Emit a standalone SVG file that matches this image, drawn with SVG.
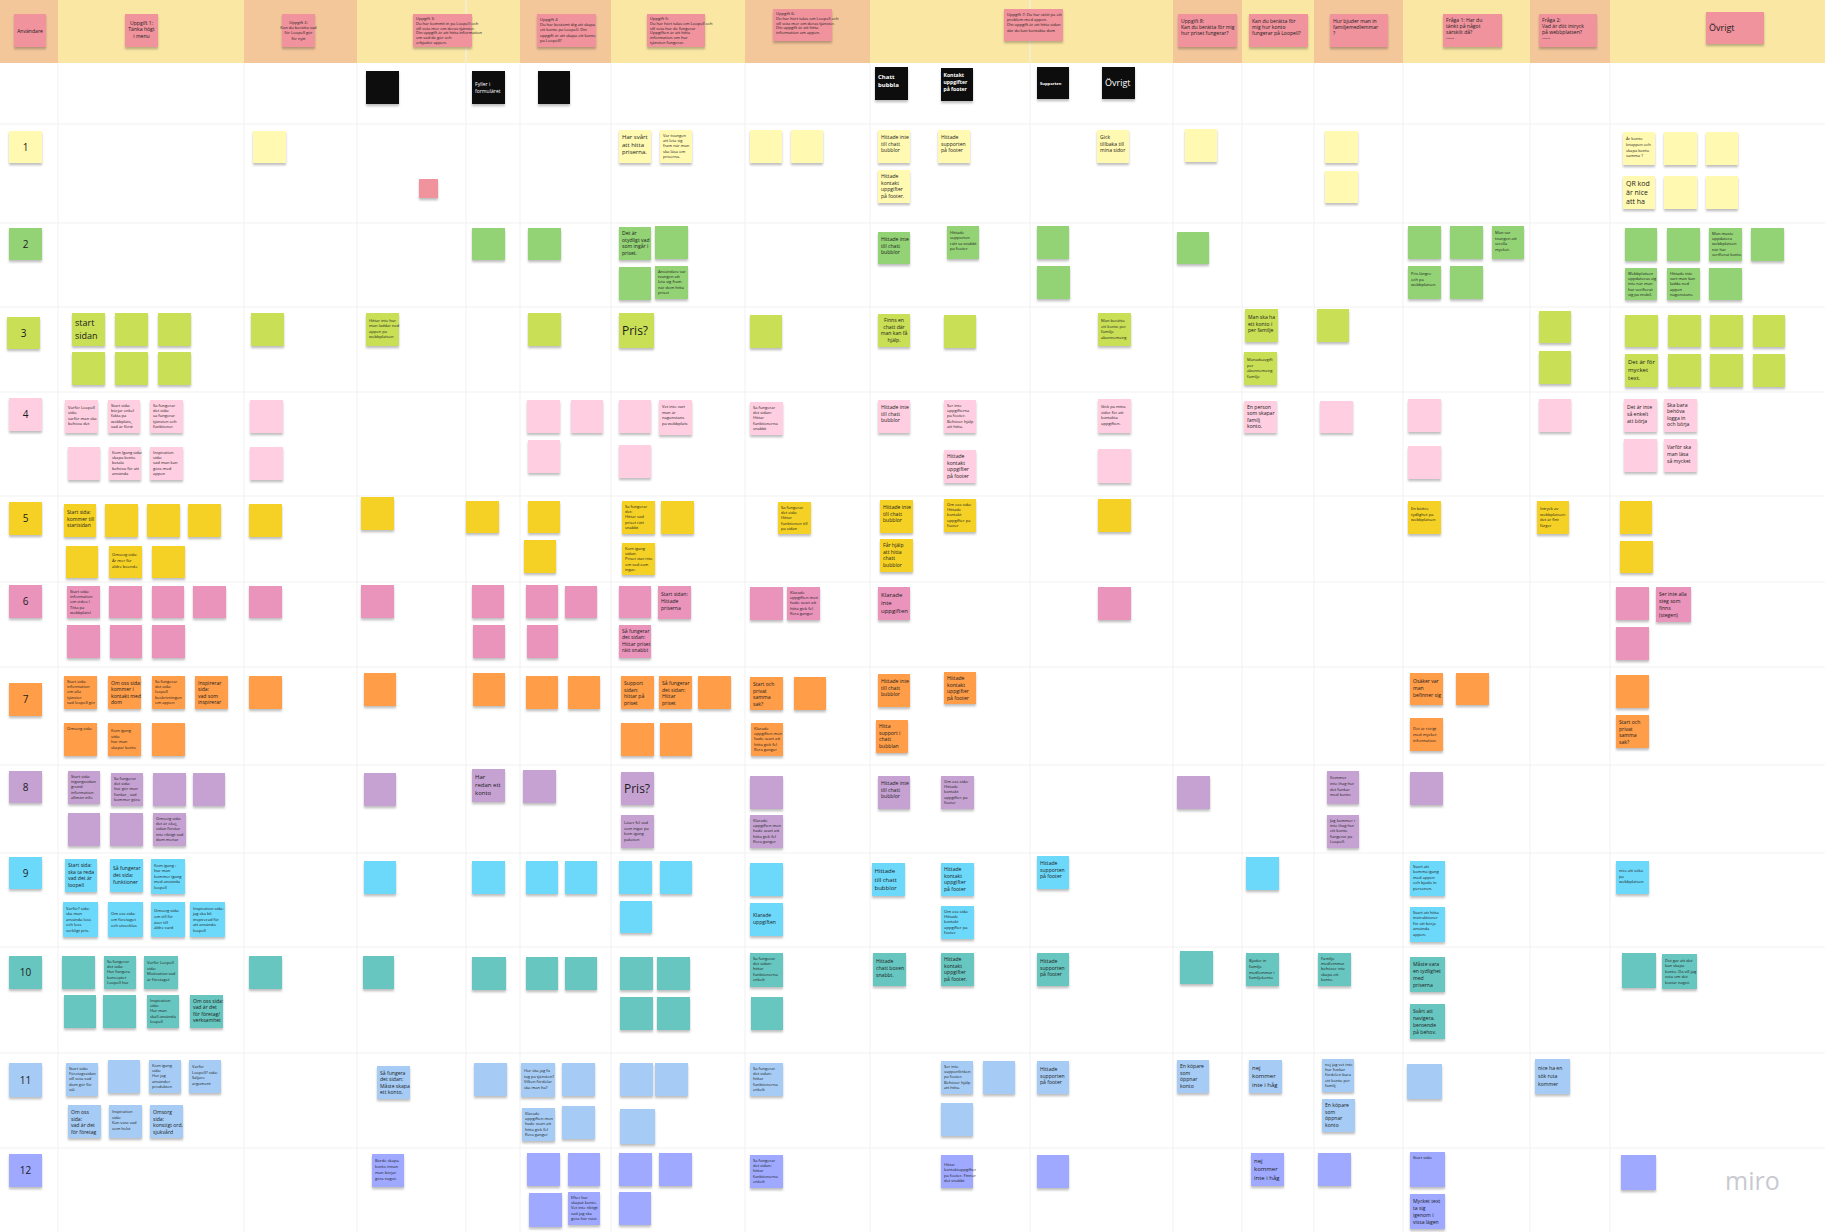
<svg xmlns="http://www.w3.org/2000/svg" width="1825" height="1232" viewBox="0 0 1825 1232">
<defs>
<filter id="sh" x="-20%" y="-20%" width="140%" height="160%"><feDropShadow dx="0" dy="2.2" stdDeviation="1.3" flood-color="#000" flood-opacity="0.25"/></filter>
<style>
.s{filter:url(#sh)}
.c1{fill:#fff9b1}.c2{fill:#93d275}.c3{fill:#c9df56}.c4{fill:#ffcee0}.c5{fill:#f5d128}.c6{fill:#ea94bb}
.c7{fill:#ff9d48}.c8{fill:#c6a2d2}.c9{fill:#6cd8fa}.c10{fill:#67c6c0}.c11{fill:#a6ccf5}.c12{fill:#9ea9ff}
.red{fill:#f0939d}.blk{fill:#0a0a0a}
text{font-family:"Open Sans","Noto Sans","Liberation Sans",sans-serif;fill:#1c1c1c}
.a{font-size:4.1px}.b{font-size:5.1px}.c{font-size:6px}.d{font-size:7px}.e{font-size:9px}.f{font-size:12px}
.w{fill:#fff}.mid{text-anchor:middle}
.lbl{font-size:10px;text-anchor:middle}
.gl{stroke:#f1f1f1;stroke-width:1}
</style>
</defs>
<rect width="1825" height="1232" fill="#ffffff"/>
<g id="frames">
<rect x="0" y="0" width="58" height="63" fill="#f4c79b"/>
<rect x="58" y="0" width="186" height="63" fill="#fae7a4"/>
<rect x="244" y="0" width="113" height="63" fill="#f4c79b"/>
<rect x="357" y="0" width="163" height="63" fill="#fae7a4"/>
<rect x="520" y="0" width="91" height="63" fill="#f4c79b"/>
<rect x="611" y="0" width="134" height="63" fill="#fae7a4"/>
<rect x="745" y="0" width="125" height="63" fill="#f4c79b"/>
<rect x="870" y="0" width="303" height="63" fill="#fae7a4"/>
<rect x="1173" y="0" width="69" height="63" fill="#f4c79b"/>
<rect x="1242" y="0" width="72" height="63" fill="#fae7a4"/>
<rect x="1314" y="0" width="89" height="63" fill="#f4c79b"/>
<rect x="1403" y="0" width="127" height="63" fill="#fae7a4"/>
<rect x="1530" y="0" width="80" height="63" fill="#f4c79b"/>
<rect x="1610" y="0" width="215" height="63" fill="#fae7a4"/>
<g class="gl">
<line x1="466" y1="0" x2="466" y2="1232"/><line x1="1030" y1="0" x2="1030" y2="1232"/>
<line x1="58" y1="63" x2="58" y2="1232"/><line x1="244" y1="63" x2="244" y2="1232"/><line x1="357" y1="63" x2="357" y2="1232"/>
<line x1="520" y1="63" x2="520" y2="1232"/><line x1="611" y1="63" x2="611" y2="1232"/><line x1="745" y1="63" x2="745" y2="1232"/>
<line x1="870" y1="63" x2="870" y2="1232"/><line x1="1173" y1="63" x2="1173" y2="1232"/><line x1="1242" y1="63" x2="1242" y2="1232"/>
<line x1="1314" y1="63" x2="1314" y2="1232"/><line x1="1403" y1="63" x2="1403" y2="1232"/><line x1="1530" y1="63" x2="1530" y2="1232"/>
<line x1="1610" y1="63" x2="1610" y2="1232"/>
<line x1="0" y1="124" x2="1825" y2="124"/><line x1="0" y1="223" x2="1825" y2="223"/><line x1="0" y1="307" x2="1825" y2="307"/>
<line x1="0" y1="392" x2="1825" y2="392"/><line x1="0" y1="496" x2="1825" y2="496"/><line x1="0" y1="582" x2="1825" y2="582"/>
<line x1="0" y1="667" x2="1825" y2="667"/><line x1="0" y1="765" x2="1825" y2="765"/><line x1="0" y1="853" x2="1825" y2="853"/>
<line x1="0" y1="947" x2="1825" y2="947"/><line x1="0" y1="1053" x2="1825" y2="1053"/><line x1="0" y1="1148" x2="1825" y2="1148"/>
</g>
</g>
<g id="connectors"/>
<!-- header stickies -->
<g id="h1" transform="translate(14,14)"><rect class="s red" width="32" height="33"/><text class="b mid" x="16" y="19">Användare</text></g>
<g id="h2" transform="translate(125,14)"><rect class="s red" width="33" height="33"/><text class="b mid" x="16.5" y="11"><tspan x="16.5">Uppgift 1:</tspan><tspan x="16.5" dy="6.4">Tänka högt</tspan><tspan x="16.5" dy="6.4">i menu</tspan></text></g>
<g id="h3" transform="translate(282,14)"><rect class="s red" width="33" height="33"/><text class="a mid" x="16.5" y="10"><tspan x="16.5">Uppgift 2:</tspan><tspan x="16.5" dy="5.2">Kan du berätta vad</tspan><tspan x="16.5" dy="5.2">för Loopell gör</tspan><tspan x="16.5" dy="5.2">för nytt</tspan></text></g>
<g id="h4" transform="translate(413,14)"><rect class="s red" width="59" height="33"/><text class="a" x="3" y="6"><tspan x="3">Uppgift 3:</tspan><tspan x="3" dy="4.8">Du har kommit in på Loopell och</tspan><tspan x="3" dy="4.8">vill veta mer om deras tjänster.</tspan><tspan x="3" dy="4.8">Din uppgift är att hitta information</tspan><tspan x="3" dy="4.8">om vad de gör och</tspan><tspan x="3" dy="4.8">erbjuder appen.</tspan></text></g>
<g id="h5" transform="translate(537,14)"><rect class="s red" width="59" height="33"/><text class="a" x="3" y="7"><tspan x="3">Uppgift 4</tspan><tspan x="3" dy="5.2">Du har bestämt dig att skapa</tspan><tspan x="3" dy="5.2">ett konto på Loopell. Din</tspan><tspan x="3" dy="5.2">uppgift är att skapa ett konto</tspan><tspan x="3" dy="5.2">på Loopell?</tspan></text></g>
<g id="h6" transform="translate(647,14)"><rect class="s red" width="58" height="33"/><text class="a" x="3" y="6"><tspan x="3">Uppgift 5:</tspan><tspan x="3" dy="4.8">Du har hört talas om Loopell och</tspan><tspan x="3" dy="4.8">vill veta hur de fungerar</tspan><tspan x="3" dy="4.8">Uppgiften är att hitta</tspan><tspan x="3" dy="4.8">information om hur</tspan><tspan x="3" dy="4.8">tjänsten fungerar.</tspan></text></g>
<g id="h7" transform="translate(773,9)"><rect class="s red" width="59" height="32"/><text class="a" x="3" y="6"><tspan x="3">Uppgift 6:</tspan><tspan x="3" dy="4.8">Du har hört talas om Loopell och</tspan><tspan x="3" dy="4.8">vill veta mer om deras tjänster.</tspan><tspan x="3" dy="4.8">Din uppgift är att hitta</tspan><tspan x="3" dy="4.8">information om appen.</tspan></text></g>
<g id="h8" transform="translate(1004,9)"><rect class="s red" width="59" height="32"/><text class="a" x="3" y="7"><tspan x="3">Uppgift 7: Du har stött på ett</tspan><tspan x="3" dy="5.2">problem med appen.</tspan><tspan x="3" dy="5.2">Din uppgift är att hitta sidan</tspan><tspan x="3" dy="5.2">där du kan kontakta dom</tspan></text></g>
<g id="h9" transform="translate(1178,14)"><rect class="s red" width="59" height="33"/><text class="b" x="3" y="9"><tspan x="3">Uppgift 8:</tspan><tspan x="3" dy="6.2">Kan du berätta för mig</tspan><tspan x="3" dy="6.2">hur priset fungerar?</tspan></text></g>
<g id="h10" transform="translate(1249,14)"><rect class="s red" width="59" height="33"/><text class="b" x="3" y="9"><tspan x="3">Kan du berätta för</tspan><tspan x="3" dy="6.2">mig hur konto</tspan><tspan x="3" dy="6.2">fungerar på Loopell?</tspan></text></g>
<g id="h11" transform="translate(1330,14)"><rect class="s red" width="58" height="33"/><text class="b" x="3" y="9"><tspan x="3">Hur bjuder man in</tspan><tspan x="3" dy="6.2">familjemedlemmar</tspan><tspan x="3" dy="6.2">?</tspan></text></g>
<g id="h12" transform="translate(1443,14)"><rect class="s red" width="59" height="33"/><text class="b" x="3" y="8"><tspan x="3">Fråga 1: Har du</tspan><tspan x="3" dy="6">tänkt på något</tspan><tspan x="3" dy="6">särskilt då?</tspan><tspan x="3" dy="6">-----</tspan></text></g>
<g id="h13" transform="translate(1539,14)"><rect class="s red" width="58" height="33"/><text class="b" x="3" y="8"><tspan x="3">Fråga 2:</tspan><tspan x="3" dy="6">Vad är ditt intryck</tspan><tspan x="3" dy="6">på webbplatsen?</tspan><tspan x="3" dy="6">-----</tspan></text></g>
<g id="h14" transform="translate(1706,12)"><rect class="s red" width="58" height="32"/><text class="e" x="3" y="19">Övrigt</text></g>
<!-- black category stickies -->
<g id="k1" transform="translate(366,71)"><rect class="s blk" width="33" height="33"/></g>
<g id="k2" transform="translate(472,71)"><rect class="s blk" width="33" height="33"/><text class="b w" x="3" y="15"><tspan x="3">Fyller i</tspan><tspan x="3" dy="7">formuläret</tspan></text></g>
<g id="k3" transform="translate(538,71)"><rect class="s blk" width="32" height="33"/></g>
<g id="k4" transform="translate(875,67)"><rect class="s blk" width="33" height="33"/><text class="c w" x="3" y="12" font-weight="bold"><tspan x="3">Chatt</tspan><tspan x="3" dy="8">bubbla</tspan></text></g>
<g id="k5" transform="translate(941,68)"><rect class="s blk" width="32" height="33"/><text class="b w" x="2.5" y="9" font-weight="bold"><tspan x="2.5">Kontakt</tspan><tspan x="2.5" dy="6.8">uppgifter</tspan><tspan x="2.5" dy="6.8">på footer</tspan></text></g>
<g id="k6" transform="translate(1037,67)"><rect class="s blk" width="32" height="32"/><text class="a w" x="3" y="18" font-weight="bold">Supporten</text></g>
<g id="k7" transform="translate(1102,67)"><rect class="s blk" width="33" height="32"/><text class="e w" x="3" y="19">Övrigt</text></g>
<!-- row labels -->
<g id="l1" transform="translate(9,131)"><rect class="s c1" width="33" height="32"/><text class="lbl" x="16.5" y="20">1</text></g>
<g id="l2" transform="translate(9,228)"><rect class="s c2" width="33" height="32"/><text class="lbl" x="16.5" y="20">2</text></g>
<g id="l3" transform="translate(7,317)"><rect class="s c3" width="33" height="32"/><text class="lbl" x="16.5" y="20">3</text></g>
<g id="l4" transform="translate(9,398)"><rect class="s c4" width="33" height="33"/><text class="lbl" x="16.5" y="20">4</text></g>
<g id="l5" transform="translate(9,502)"><rect class="s c5" width="33" height="33"/><text class="lbl" x="16.5" y="20">5</text></g>
<g id="l6" transform="translate(9,585)"><rect class="s c6" width="33" height="33"/><text class="lbl" x="16.5" y="20">6</text></g>
<g id="l7" transform="translate(9,683)"><rect class="s c7" width="33" height="33"/><text class="lbl" x="16.5" y="20">7</text></g>
<g id="l8" transform="translate(9,771)"><rect class="s c8" width="33" height="32"/><text class="lbl" x="16.5" y="20">8</text></g>
<g id="l9" transform="translate(9,857)"><rect class="s c9" width="33" height="32"/><text class="lbl" x="16.5" y="20">9</text></g>
<g id="l10" transform="translate(9,956)"><rect class="s c10" width="33" height="33"/><text class="lbl" x="16.5" y="20">10</text></g>
<g id="l11" transform="translate(9,1063)"><rect class="s c11" width="33" height="34"/><text class="lbl" x="16.5" y="21">11</text></g>
<g id="l12" transform="translate(9,1154)"><rect class="s c12" width="33" height="33"/><text class="lbl" x="16.5" y="20">12</text></g>
<!-- row 1 -->
<g id="r1a" transform="translate(253,131)"><rect class="s c1" width="33" height="32"/></g>
<g id="r1b" transform="translate(419,179)"><rect class="s red" width="19" height="19"/></g>
<g id="r1c" transform="translate(619,130)"><rect class="s c1" width="32" height="33"/><text class="c" x="3" y="9"><tspan x="3">Har svårt</tspan><tspan x="3" dy="7.6">att hitta</tspan><tspan x="3" dy="7.6">priserna.</tspan></text></g>
<g id="r1d" transform="translate(660,130)"><rect class="s c1" width="32" height="33"/><text class="a" x="3" y="7"><tspan x="3">Var tvungen</tspan><tspan x="3" dy="5.2">att leta sig</tspan><tspan x="3" dy="5.2">fram när man</tspan><tspan x="3" dy="5.2">ska läsa om</tspan><tspan x="3" dy="5.2">priserna.</tspan></text></g>
<g id="r1e" transform="translate(750,130)"><rect class="s c1" width="32" height="33"/></g>
<g id="r1f" transform="translate(791,130)"><rect class="s c1" width="32" height="33"/></g>
<g id="r1g" transform="translate(878,130)"><rect class="s c1" width="32" height="33"/><text class="b" x="3" y="9"><tspan x="3">Hittade inte</tspan><tspan x="3" dy="6.6">till chatt</tspan><tspan x="3" dy="6.6">bubblor</tspan></text></g>
<g id="r1h" transform="translate(878,170)"><rect class="s c1" width="32" height="33"/><text class="b" x="3" y="8"><tspan x="3">Hittade</tspan><tspan x="3" dy="6.6">kontakt</tspan><tspan x="3" dy="6.6">uppgifter</tspan><tspan x="3" dy="6.6">på footer.</tspan></text></g>
<g id="r1i" transform="translate(938,130)"><rect class="s c1" width="32" height="33"/><text class="b" x="3" y="9"><tspan x="3">Hittade</tspan><tspan x="3" dy="6.6">supporten</tspan><tspan x="3" dy="6.6">på footer</tspan></text></g>
<g id="r1j" transform="translate(1097,130)"><rect class="s c1" width="32" height="33"/><text class="b" x="3" y="9"><tspan x="3">Gick</tspan><tspan x="3" dy="6.6">tillbaka till</tspan><tspan x="3" dy="6.6">mina sidor</tspan></text></g>
<g id="r1k" transform="translate(1185,129)"><rect class="s c1" width="32" height="33"/></g>
<g id="r1l" transform="translate(1325,131)"><rect class="s c1" width="33" height="32"/></g>
<g id="r1m" transform="translate(1325,171)"><rect class="s c1" width="33" height="32"/></g>
<g id="r1n" transform="translate(1623,132)"><rect class="s c1" width="32" height="33"/><text class="a" x="3" y="8"><tspan x="3">Är konto</tspan><tspan x="3" dy="5.8">knappen och</tspan><tspan x="3" dy="5.8">skapa konto</tspan><tspan x="3" dy="5.8">samma ?</tspan></text></g>
<g id="r1o" transform="translate(1664,132)"><rect class="s c1" width="33" height="33"/></g>
<g id="r1p" transform="translate(1706,132)"><rect class="s c1" width="32" height="33"/></g>
<g id="r1q" transform="translate(1623,176)"><rect class="s c1" width="32" height="33"/><text class="d" x="3" y="10"><tspan x="3">QR kod</tspan><tspan x="3" dy="9">är nice</tspan><tspan x="3" dy="9">att ha</tspan></text></g>
<g id="r1r" transform="translate(1664,176)"><rect class="s c1" width="33" height="33"/></g>
<g id="r1s" transform="translate(1706,176)"><rect class="s c1" width="32" height="33"/></g>
<!-- row 2 -->
<g id="r2a" transform="translate(472,228)"><rect class="s c2" width="33" height="32"/></g>
<g id="r2b" transform="translate(528,228)"><rect class="s c2" width="33" height="32"/></g>
<g id="r2c" transform="translate(619,227)"><rect class="s c2" width="32" height="33"/><text class="b" x="3" y="8"><tspan x="3">Det är</tspan><tspan x="3" dy="6.6">otydligt vad</tspan><tspan x="3" dy="6.6">som ingår i</tspan><tspan x="3" dy="6.6">priset.</tspan></text></g>
<g id="r2d" transform="translate(655,226)"><rect class="s c2" width="33" height="33"/></g>
<g id="r2e" transform="translate(619,267)"><rect class="s c2" width="32" height="33"/></g>
<g id="r2f" transform="translate(655,266)"><rect class="s c2" width="33" height="33"/><text class="a" x="3" y="7"><tspan x="3">Användare var</tspan><tspan x="3" dy="5.2">tvungen att</tspan><tspan x="3" dy="5.2">leta sig fram</tspan><tspan x="3" dy="5.2">när dom hitta</tspan><tspan x="3" dy="5.2">priset</tspan></text></g>
<g id="r2g" transform="translate(878,232)"><rect class="s c2" width="32" height="32"/><text class="b" x="3" y="9"><tspan x="3">Hittade inte</tspan><tspan x="3" dy="6.6">till chatt</tspan><tspan x="3" dy="6.6">bubblor</tspan></text></g>
<g id="r2h" transform="translate(947,226)"><rect class="s c2" width="32" height="33"/><text class="a" x="3" y="8"><tspan x="3">Hittade</tspan><tspan x="3" dy="5.4">supporten</tspan><tspan x="3" dy="5.4">rätt så snabbt</tspan><tspan x="3" dy="5.4">på footer</tspan></text></g>
<g id="r2i" transform="translate(1037,226)"><rect class="s c2" width="32" height="33"/></g>
<g id="r2j" transform="translate(1037,266)"><rect class="s c2" width="33" height="33"/></g>
<g id="r2k" transform="translate(1177,232)"><rect class="s c2" width="32" height="32"/></g>
<g id="r2l" transform="translate(1408,226)"><rect class="s c2" width="33" height="33"/></g>
<g id="r2m" transform="translate(1450,226)"><rect class="s c2" width="33" height="33"/></g>
<g id="r2n" transform="translate(1492,226)"><rect class="s c2" width="32" height="33"/><text class="a" x="3" y="8"><tspan x="3">Man var</tspan><tspan x="3" dy="5.6">tvungen att</tspan><tspan x="3" dy="5.6">scrolla</tspan><tspan x="3" dy="5.6">mycket.</tspan></text></g>
<g id="r2o" transform="translate(1408,266)"><rect class="s c2" width="33" height="33"/><text class="a" x="3" y="9"><tspan x="3">Pris längre</tspan><tspan x="3" dy="5.6">och på</tspan><tspan x="3" dy="5.6">webbplatsen</tspan></text></g>
<g id="r2p" transform="translate(1450,266)"><rect class="s c2" width="33" height="33"/></g>
<g id="r2q" transform="translate(1625,228)"><rect class="s c2" width="32" height="33"/></g>
<g id="r2r" transform="translate(1667,228)"><rect class="s c2" width="33" height="33"/></g>
<g id="r2s" transform="translate(1709,228)"><rect class="s c2" width="33" height="33"/><text class="a" x="3" y="7"><tspan x="3">Man måste</tspan><tspan x="3" dy="5.2">uppdatera</tspan><tspan x="3" dy="5.2">webbplatsen</tspan><tspan x="3" dy="5.2">när har</tspan><tspan x="3" dy="5.2">verifierat konto</tspan></text></g>
<g id="r2t" transform="translate(1751,228)"><rect class="s c2" width="33" height="33"/></g>
<g id="r2u" transform="translate(1625,268)"><rect class="s c2" width="32" height="32"/><text class="a" x="3" y="7"><tspan x="3">Webbplatsen</tspan><tspan x="3" dy="5.2">uppdateras sig</tspan><tspan x="3" dy="5.2">inte när man</tspan><tspan x="3" dy="5.2">har verifierat</tspan><tspan x="3" dy="5.2">sig på mobil.</tspan></text></g>
<g id="r2v" transform="translate(1667,268)"><rect class="s c2" width="33" height="32"/><text class="a" x="3" y="7"><tspan x="3">Hittade inte</tspan><tspan x="3" dy="5.2">vart man kan</tspan><tspan x="3" dy="5.2">ladda ned</tspan><tspan x="3" dy="5.2">appen</tspan><tspan x="3" dy="5.2">någonstans.</tspan></text></g>
<g id="r2w" transform="translate(1709,268)"><rect class="s c2" width="33" height="32"/></g>
<!-- row 3 -->
<g id="r3a" transform="translate(72,313)"><rect class="s c3" width="33" height="33"/><text class="e" x="3" y="13"><tspan x="3">start</tspan><tspan x="3" dy="13">sidan</tspan></text></g>
<g id="r3b" transform="translate(115,313)"><rect class="s c3" width="33" height="33"/></g>
<g id="r3c" transform="translate(158,313)"><rect class="s c3" width="33" height="33"/></g>
<g id="r3d" transform="translate(72,352)"><rect class="s c3" width="33" height="33"/></g>
<g id="r3e" transform="translate(115,352)"><rect class="s c3" width="33" height="33"/></g>
<g id="r3f" transform="translate(158,352)"><rect class="s c3" width="33" height="33"/></g>
<g id="r3g" transform="translate(251,313)"><rect class="s c3" width="33" height="33"/></g>
<g id="r3h" transform="translate(366,313)"><rect class="s c3" width="33" height="33"/><text class="a" x="3" y="9"><tspan x="3">Hittar inte hur</tspan><tspan x="3" dy="5.4">man laddar ned</tspan><tspan x="3" dy="5.4">appen på</tspan><tspan x="3" dy="5.4">webbplatsen</tspan></text></g>
<g id="r3i" transform="translate(528,313)"><rect class="s c3" width="33" height="33"/></g>
<g id="r3j" transform="translate(619,313)"><rect class="s c3" width="35" height="35"/><text class="f" x="3" y="22">Pris?</text></g>
<g id="r3k" transform="translate(750,315)"><rect class="s c3" width="32" height="33"/></g>
<g id="r3l" transform="translate(878,314)"><rect class="s c3" width="32" height="33"/><text class="b mid" x="16" y="8"><tspan x="16">Finns en</tspan><tspan x="16" dy="6.6">chatt där</tspan><tspan x="16" dy="6.6">man kan få</tspan><tspan x="16" dy="6.6">hjälp.</tspan></text></g>
<g id="r3m" transform="translate(944,315)"><rect class="s c3" width="32" height="33"/></g>
<g id="r3n" transform="translate(1098,313)"><rect class="s c3" width="33" height="33"/><text class="a" x="3" y="9"><tspan x="3">Man berätta</tspan><tspan x="3" dy="5.6">ett konto per</tspan><tspan x="3" dy="5.6">familje</tspan><tspan x="3" dy="5.6">abonnemang</tspan></text></g>
<g id="r3o" transform="translate(1245,309)"><rect class="s c3" width="33" height="33"/><text class="b" x="3" y="10"><tspan x="3">Man ska ha</tspan><tspan x="3" dy="6.6">ett konto i</tspan><tspan x="3" dy="6.6">per familje</tspan></text></g>
<g id="r3p" transform="translate(1244,352)"><rect class="s c3" width="33" height="33"/><text class="a" x="3" y="9"><tspan x="3">Månadsavgift</tspan><tspan x="3" dy="5.6">per</tspan><tspan x="3" dy="5.6">abonnemang</tspan><tspan x="3" dy="5.6">familje</tspan></text></g>
<g id="r3q" transform="translate(1317,309)"><rect class="s c3" width="32" height="33"/></g>
<g id="r3r" transform="translate(1539,311)"><rect class="s c3" width="32" height="32"/></g>
<g id="r3s" transform="translate(1539,351)"><rect class="s c3" width="32" height="33"/></g>
<g id="r3t" transform="translate(1625,315)"><rect class="s c3" width="33" height="32"/></g>
<g id="r3u" transform="translate(1668,315)"><rect class="s c3" width="33" height="32"/></g>
<g id="r3v" transform="translate(1710,315)"><rect class="s c3" width="33" height="32"/></g>
<g id="r3w" transform="translate(1753,315)"><rect class="s c3" width="32" height="32"/></g>
<g id="r3x" transform="translate(1625,354)"><rect class="s c3" width="33" height="33"/><text class="c" x="3" y="10"><tspan x="3">Det är för</tspan><tspan x="3" dy="8">mycket</tspan><tspan x="3" dy="8">text.</tspan></text></g>
<g id="r3y" transform="translate(1668,354)"><rect class="s c3" width="33" height="33"/></g>
<g id="r3z" transform="translate(1710,354)"><rect class="s c3" width="33" height="33"/></g>
<g id="r3z2" transform="translate(1753,354)"><rect class="s c3" width="32" height="33"/></g>
<!-- row 4 -->
<g id="r4a" transform="translate(65,400)"><rect class="s c4" width="33" height="33"/><text class="a" x="3" y="9"><tspan x="3">Varför Loopell</tspan><tspan x="3" dy="5.4">sida:</tspan><tspan x="3" dy="5.4">varför man ska</tspan><tspan x="3" dy="5.4">behöva det</tspan></text></g>
<g id="r4b" transform="translate(108,400)"><rect class="s c4" width="32" height="33"/><text class="a" x="3" y="7"><tspan x="3">Start sida:</tspan><tspan x="3" dy="5.2">börjar enkel</tspan><tspan x="3" dy="5.2">fakta på</tspan><tspan x="3" dy="5.2">webbplats,</tspan><tspan x="3" dy="5.2">vad är först</tspan></text></g>
<g id="r4c" transform="translate(150,400)"><rect class="s c4" width="33" height="33"/><text class="a" x="3" y="7"><tspan x="3">Så fungerar</tspan><tspan x="3" dy="5.2">det sida:</tspan><tspan x="3" dy="5.2">så fungerar</tspan><tspan x="3" dy="5.2">tjänsten och</tspan><tspan x="3" dy="5.2">funktioner</tspan></text></g>
<g id="r4d" transform="translate(68,447)"><rect class="s c4" width="32" height="33"/></g>
<g id="r4e" transform="translate(109,447)"><rect class="s c4" width="32" height="33"/><text class="a" x="3" y="7"><tspan x="3">Kom Igång sida:</tspan><tspan x="3" dy="5.2">skapa konto</tspan><tspan x="3" dy="5.2">betala</tspan><tspan x="3" dy="5.2">behöva för att</tspan><tspan x="3" dy="5.2">använda</tspan></text></g>
<g id="r4f" transform="translate(150,447)"><rect class="s c4" width="33" height="33"/><text class="a" x="3" y="7"><tspan x="3">Inspiration</tspan><tspan x="3" dy="5.2">sida:</tspan><tspan x="3" dy="5.2">vad man kan</tspan><tspan x="3" dy="5.2">göra med</tspan><tspan x="3" dy="5.2">appen</tspan></text></g>
<g id="r4g" transform="translate(250,400)"><rect class="s c4" width="33" height="33"/></g>
<g id="r4h" transform="translate(250,447)"><rect class="s c4" width="33" height="33"/></g>
<g id="r4i" transform="translate(527,400)"><rect class="s c4" width="33" height="33"/></g>
<g id="r4j" transform="translate(571,400)"><rect class="s c4" width="32" height="33"/></g>
<g id="r4k" transform="translate(528,440)"><rect class="s c4" width="32" height="33"/></g>
<g id="r4l" transform="translate(619,400)"><rect class="s c4" width="32" height="33"/></g>
<g id="r4m" transform="translate(659,400)"><rect class="s c4" width="33" height="35"/><text class="a" x="3" y="8"><tspan x="3">Vet inte vart</tspan><tspan x="3" dy="5.6">man är</tspan><tspan x="3" dy="5.6">någonstans</tspan><tspan x="3" dy="5.6">på webbplats</tspan></text></g>
<g id="r4n" transform="translate(619,445)"><rect class="s c4" width="32" height="33"/></g>
<g id="r4o" transform="translate(750,402)"><rect class="s c4" width="33" height="33"/><text class="a" x="3" y="7"><tspan x="3">Så fungerar</tspan><tspan x="3" dy="5.2">det sidan:</tspan><tspan x="3" dy="5.2">Hittar</tspan><tspan x="3" dy="5.2">funktionerna</tspan><tspan x="3" dy="5.2">snabbt</tspan></text></g>
<g id="r4p" transform="translate(878,400)"><rect class="s c4" width="32" height="33"/><text class="b" x="3" y="9"><tspan x="3">Hittade inte</tspan><tspan x="3" dy="6.6">till chatt</tspan><tspan x="3" dy="6.6">bubblor</tspan></text></g>
<g id="r4q" transform="translate(944,400)"><rect class="s c4" width="32" height="33"/><text class="a" x="3" y="7"><tspan x="3">Ser inte</tspan><tspan x="3" dy="5.2">uppgifterna</tspan><tspan x="3" dy="5.2">på footer.</tspan><tspan x="3" dy="5.2">Behöver hjälp</tspan><tspan x="3" dy="5.2">att hitta.</tspan></text></g>
<g id="r4r" transform="translate(944,450)"><rect class="s c4" width="32" height="33"/><text class="b" x="3" y="8"><tspan x="3">Hittade</tspan><tspan x="3" dy="6.6">kontakt</tspan><tspan x="3" dy="6.6">uppgifter</tspan><tspan x="3" dy="6.6">på footer</tspan></text></g>
<g id="r4s" transform="translate(1098,399)"><rect class="s c4" width="33" height="34"/><text class="a" x="3" y="9"><tspan x="3">Gick på mina</tspan><tspan x="3" dy="5.6">sidor för att</tspan><tspan x="3" dy="5.6">kontakta</tspan><tspan x="3" dy="5.6">uppgiften.</tspan></text></g>
<g id="r4t" transform="translate(1098,449)"><rect class="s c4" width="33" height="34"/></g>
<g id="r4u" transform="translate(1244,401)"><rect class="s c4" width="33" height="32"/><text class="b" x="3" y="8"><tspan x="3">En person</tspan><tspan x="3" dy="6.4">som skapar</tspan><tspan x="3" dy="6.4">familj</tspan><tspan x="3" dy="6.4">konto.</tspan></text></g>
<g id="r4v" transform="translate(1320,401)"><rect class="s c4" width="33" height="32"/></g>
<g id="r4w" transform="translate(1408,399)"><rect class="s c4" width="33" height="33"/></g>
<g id="r4x" transform="translate(1408,446)"><rect class="s c4" width="33" height="33"/></g>
<g id="r4y" transform="translate(1539,399)"><rect class="s c4" width="32" height="33"/></g>
<g id="r4z" transform="translate(1624,399)"><rect class="s c4" width="33" height="33"/><text class="b" x="3" y="10"><tspan x="3">Det är inte</tspan><tspan x="3" dy="6.8">så enkelt</tspan><tspan x="3" dy="6.8">att börja</tspan></text></g>
<g id="r4z1" transform="translate(1664,399)"><rect class="s c4" width="33" height="33"/><text class="b" x="3" y="8"><tspan x="3">Ska bara</tspan><tspan x="3" dy="6.4">behöva</tspan><tspan x="3" dy="6.4">logga in</tspan><tspan x="3" dy="6.4">och börja</tspan></text></g>
<g id="r4z2" transform="translate(1624,439)"><rect class="s c4" width="33" height="33"/></g>
<g id="r4z3" transform="translate(1664,439)"><rect class="s c4" width="33" height="33"/><text class="b" x="3" y="10"><tspan x="3">Varför ska</tspan><tspan x="3" dy="6.8">man läsa</tspan><tspan x="3" dy="6.8">så mycket</tspan></text></g>
<!-- row 5 -->
<g id="r5a" transform="translate(64,504)"><rect class="s c5" width="32" height="33"/><text class="b" x="3" y="10"><tspan x="3">Start sida:</tspan><tspan x="3" dy="6.6">kommer till</tspan><tspan x="3" dy="6.6">startsidan</tspan></text></g>
<g id="r5b" transform="translate(105,504)"><rect class="s c5" width="33" height="33"/></g>
<g id="r5c" transform="translate(147,504)"><rect class="s c5" width="33" height="33"/></g>
<g id="r5d" transform="translate(188,504)"><rect class="s c5" width="33" height="33"/></g>
<g id="r5e" transform="translate(249,504)"><rect class="s c5" width="33" height="33"/></g>
<g id="r5f" transform="translate(66,546)"><rect class="s c5" width="32" height="32"/></g>
<g id="r5g" transform="translate(109,546)"><rect class="s c5" width="33" height="32"/><text class="a" x="3" y="10"><tspan x="3">Omsorg sida:</tspan><tspan x="3" dy="5.8">Är mer för</tspan><tspan x="3" dy="5.8">äldre boende</tspan></text></g>
<g id="r5h" transform="translate(152,546)"><rect class="s c5" width="33" height="32"/></g>
<g id="r5i" transform="translate(361,497)"><rect class="s c5" width="33" height="33"/></g>
<g id="r5j" transform="translate(466,501)"><rect class="s c5" width="33" height="32"/></g>
<g id="r5k" transform="translate(528,501)"><rect class="s c5" width="32" height="32"/></g>
<g id="r5l" transform="translate(524,540)"><rect class="s c5" width="32" height="33"/></g>
<g id="r5m" transform="translate(622,501)"><rect class="s c5" width="33" height="33"/><text class="a" x="3" y="7"><tspan x="3">Så fungerar</tspan><tspan x="3" dy="5.2">det:</tspan><tspan x="3" dy="5.2">Hittar vad</tspan><tspan x="3" dy="5.2">priset rätt</tspan><tspan x="3" dy="5.2">snabbt</tspan></text></g>
<g id="r5n" transform="translate(661,501)"><rect class="s c5" width="33" height="33"/></g>
<g id="r5o" transform="translate(622,543)"><rect class="s c5" width="33" height="32"/><text class="a" x="3" y="7"><tspan x="3">Kom igång</tspan><tspan x="3" dy="5.2">sidan:</tspan><tspan x="3" dy="5.2">Priset står inte</tspan><tspan x="3" dy="5.2">om vad som</tspan><tspan x="3" dy="5.2">ingår.</tspan></text></g>
<g id="r5p" transform="translate(778,502)"><rect class="s c5" width="33" height="32"/><text class="a" x="3" y="7"><tspan x="3">Så fungerar</tspan><tspan x="3" dy="5.2">det sida:</tspan><tspan x="3" dy="5.2">Hittar</tspan><tspan x="3" dy="5.2">funktionen till</tspan><tspan x="3" dy="5.2">på sidan</tspan></text></g>
<g id="r5q" transform="translate(880,500)"><rect class="s c5" width="33" height="33"/><text class="b" x="3" y="9"><tspan x="3">Hittade inte</tspan><tspan x="3" dy="6.6">till chatt</tspan><tspan x="3" dy="6.6">bubblor</tspan></text></g>
<g id="r5r" transform="translate(880,539)"><rect class="s c5" width="33" height="33"/><text class="b" x="3" y="8"><tspan x="3">Får hjälp</tspan><tspan x="3" dy="6.6">att hitta</tspan><tspan x="3" dy="6.6">chatt</tspan><tspan x="3" dy="6.6">bubblor</tspan></text></g>
<g id="r5s" transform="translate(944,499)"><rect class="s c5" width="32" height="33"/><text class="a" x="3" y="7"><tspan x="3">Om oss sida:</tspan><tspan x="3" dy="5.2">Hittade</tspan><tspan x="3" dy="5.2">kontakt</tspan><tspan x="3" dy="5.2">uppgifter på</tspan><tspan x="3" dy="5.2">footer</tspan></text></g>
<g id="r5t" transform="translate(1098,499)"><rect class="s c5" width="33" height="33"/></g>
<g id="r5u" transform="translate(1408,501)"><rect class="s c5" width="33" height="33"/><text class="a" x="3" y="9"><tspan x="3">En bättre</tspan><tspan x="3" dy="5.6">tydlighet på</tspan><tspan x="3" dy="5.6">webbplatsen</tspan></text></g>
<g id="r5v" transform="translate(1537,501)"><rect class="s c5" width="32" height="33"/><text class="a" x="3" y="9"><tspan x="3">Intryck av</tspan><tspan x="3" dy="5.6">webbplatsen:</tspan><tspan x="3" dy="5.6">det är fint</tspan><tspan x="3" dy="5.6">färger</tspan></text></g>
<g id="r5w" transform="translate(1620,501)"><rect class="s c5" width="32" height="33"/></g>
<g id="r5x" transform="translate(1620,541)"><rect class="s c5" width="33" height="32"/></g>
<!-- row 6 -->
<g id="r6a" transform="translate(67,586)"><rect class="s c6" width="33" height="32"/><text class="a" x="3" y="7"><tspan x="3">Start sida:</tspan><tspan x="3" dy="5.2">information</tspan><tspan x="3" dy="5.2">om video (</tspan><tspan x="3" dy="5.2">Titta på</tspan><tspan x="3" dy="5.2">webbplats)</tspan></text></g>
<g id="r6b" transform="translate(109,586)"><rect class="s c6" width="33" height="32"/></g>
<g id="r6c" transform="translate(152,586)"><rect class="s c6" width="32" height="32"/></g>
<g id="r6d" transform="translate(193,586)"><rect class="s c6" width="33" height="32"/></g>
<g id="r6e" transform="translate(249,586)"><rect class="s c6" width="33" height="32"/></g>
<g id="r6f" transform="translate(67,625)"><rect class="s c6" width="33" height="33"/></g>
<g id="r6g" transform="translate(110,625)"><rect class="s c6" width="32" height="33"/></g>
<g id="r6h" transform="translate(152,625)"><rect class="s c6" width="33" height="33"/></g>
<g id="r6i" transform="translate(361,585)"><rect class="s c6" width="33" height="33"/></g>
<g id="r6j" transform="translate(472,585)"><rect class="s c6" width="32" height="33"/></g>
<g id="r6k" transform="translate(526,585)"><rect class="s c6" width="32" height="33"/></g>
<g id="r6l" transform="translate(565,586)"><rect class="s c6" width="32" height="32"/></g>
<g id="r6m" transform="translate(473,625)"><rect class="s c6" width="32" height="33"/></g>
<g id="r6n" transform="translate(527,625)"><rect class="s c6" width="31" height="33"/></g>
<g id="r6o" transform="translate(619,586)"><rect class="s c6" width="32" height="32"/></g>
<g id="r6p" transform="translate(658,586)"><rect class="s c6" width="33" height="33"/><text class="b" x="3" y="10"><tspan x="3">Start sidan:</tspan><tspan x="3" dy="7">Hittade</tspan><tspan x="3" dy="7">priserna</tspan></text></g>
<g id="r6q" transform="translate(619,625)"><rect class="s c6" width="32" height="33"/><text class="b" x="3" y="8"><tspan x="3">Så fungerar</tspan><tspan x="3" dy="6.4">det sidan:</tspan><tspan x="3" dy="6.4">Hittar priset</tspan><tspan x="3" dy="6.4">rätt snabbt</tspan></text></g>
<g id="r6r" transform="translate(750,587)"><rect class="s c6" width="33" height="33"/></g>
<g id="r6s" transform="translate(787,587)"><rect class="s c6" width="33" height="33"/><text class="a" x="3" y="7"><tspan x="3">Klarade</tspan><tspan x="3" dy="5.2">uppgiften men</tspan><tspan x="3" dy="5.2">hade svårt att</tspan><tspan x="3" dy="5.2">hitta gick fel</tspan><tspan x="3" dy="5.2">flera gånger</tspan></text></g>
<g id="r6t" transform="translate(878,587)"><rect class="s c6" width="32" height="33"/><text class="c" x="3" y="10"><tspan x="3">Klarade</tspan><tspan x="3" dy="8">inte</tspan><tspan x="3" dy="8">uppgiften</tspan></text></g>
<g id="r6u" transform="translate(1098,587)"><rect class="s c6" width="33" height="33"/></g>
<g id="r6v" transform="translate(1616,587)"><rect class="s c6" width="33" height="33"/></g>
<g id="r6w" transform="translate(1656,587)"><rect class="s c6" width="35" height="35"/><text class="b" x="3" y="9"><tspan x="3">Ser inte alla</tspan><tspan x="3" dy="7">steg som</tspan><tspan x="3" dy="7">finns</tspan><tspan x="3" dy="7">(stegen)</tspan></text></g>
<g id="r6x" transform="translate(1616,627)"><rect class="s c6" width="33" height="33"/></g>
<!-- row 7 -->
<g id="r7a" transform="translate(64,676)"><rect class="s c7" width="33" height="33"/><text class="a" x="3" y="7"><tspan x="3">Start sida:</tspan><tspan x="3" dy="5.2">information</tspan><tspan x="3" dy="5.2">om alla</tspan><tspan x="3" dy="5.2">tjänster</tspan><tspan x="3" dy="5.2">vad loopell gör</tspan></text></g>
<g id="r7b" transform="translate(108,676)"><rect class="s c7" width="33" height="33"/><text class="b" x="3" y="9"><tspan x="3">Om oss sida:</tspan><tspan x="3" dy="6.4">kommer i</tspan><tspan x="3" dy="6.4">kontakt med</tspan><tspan x="3" dy="6.4">dom</tspan></text></g>
<g id="r7c" transform="translate(152,676)"><rect class="s c7" width="33" height="33"/><text class="a" x="3" y="7"><tspan x="3">Så fungerar</tspan><tspan x="3" dy="5.2">det sida:</tspan><tspan x="3" dy="5.2">loopell</tspan><tspan x="3" dy="5.2">beskrivningen</tspan><tspan x="3" dy="5.2">om appen</tspan></text></g>
<g id="r7d" transform="translate(195,676)"><rect class="s c7" width="33" height="33"/><text class="b" x="3" y="9"><tspan x="3">Inspirerar</tspan><tspan x="3" dy="6.4">sida:</tspan><tspan x="3" dy="6.4">vad som</tspan><tspan x="3" dy="6.4">inspirerar</tspan></text></g>
<g id="r7e" transform="translate(249,676)"><rect class="s c7" width="33" height="33"/></g>
<g id="r7f" transform="translate(64,723)"><rect class="s c7" width="33" height="33"/><text class="a" x="3" y="7"><tspan x="3">Omsorg sida:</tspan></text></g>
<g id="r7g" transform="translate(108,723)"><rect class="s c7" width="33" height="33"/><text class="a" x="3" y="9"><tspan x="3">Kom igång</tspan><tspan x="3" dy="5.6">sida:</tspan><tspan x="3" dy="5.6">hur man</tspan><tspan x="3" dy="5.6">skapar konto</tspan></text></g>
<g id="r7h" transform="translate(152,723)"><rect class="s c7" width="33" height="33"/></g>
<g id="r7i" transform="translate(364,673)"><rect class="s c7" width="32" height="33"/></g>
<g id="r7j" transform="translate(473,673)"><rect class="s c7" width="32" height="33"/></g>
<g id="r7k" transform="translate(526,676)"><rect class="s c7" width="32" height="33"/></g>
<g id="r7l" transform="translate(568,676)"><rect class="s c7" width="32" height="33"/></g>
<g id="r7m" transform="translate(621,676)"><rect class="s c7" width="33" height="33"/><text class="b" x="3" y="9"><tspan x="3">Support</tspan><tspan x="3" dy="6.6">sidan:</tspan><tspan x="3" dy="6.6">hittar på</tspan><tspan x="3" dy="6.6">priset</tspan></text></g>
<g id="r7n" transform="translate(659,676)"><rect class="s c7" width="33" height="33"/><text class="b" x="3" y="9"><tspan x="3">Så fungerar</tspan><tspan x="3" dy="6.6">det sidan:</tspan><tspan x="3" dy="6.6">Hittar</tspan><tspan x="3" dy="6.6">priset</tspan></text></g>
<g id="r7o" transform="translate(698,676)"><rect class="s c7" width="33" height="33"/></g>
<g id="r7p" transform="translate(621,723)"><rect class="s c7" width="33" height="33"/></g>
<g id="r7q" transform="translate(660,723)"><rect class="s c7" width="32" height="33"/></g>
<g id="r7r" transform="translate(750,677)"><rect class="s c7" width="33" height="33"/><text class="b" x="3" y="9"><tspan x="3">Start och</tspan><tspan x="3" dy="6.6">privat</tspan><tspan x="3" dy="6.6">samma</tspan><tspan x="3" dy="6.6">sak?</tspan></text></g>
<g id="r7s" transform="translate(794,677)"><rect class="s c7" width="32" height="33"/></g>
<g id="r7t" transform="translate(751,723)"><rect class="s c7" width="32" height="33"/><text class="a" x="3" y="7"><tspan x="3">Klarade</tspan><tspan x="3" dy="5.2">uppgiften men</tspan><tspan x="3" dy="5.2">hade svårt att</tspan><tspan x="3" dy="5.2">hitta gick fel</tspan><tspan x="3" dy="5.2">flera gånger</tspan></text></g>
<g id="r7u" transform="translate(878,674)"><rect class="s c7" width="32" height="33"/><text class="b" x="3" y="9"><tspan x="3">Hittade inte</tspan><tspan x="3" dy="6.6">till chatt</tspan><tspan x="3" dy="6.6">bubblor</tspan></text></g>
<g id="r7v" transform="translate(876,720)"><rect class="s c7" width="32" height="33"/><text class="b" x="3" y="8"><tspan x="3">Hitta</tspan><tspan x="3" dy="6.6">support i</tspan><tspan x="3" dy="6.6">chatt</tspan><tspan x="3" dy="6.6">bubblan</tspan></text></g>
<g id="r7w" transform="translate(944,672)"><rect class="s c7" width="32" height="32"/><text class="b" x="3" y="8"><tspan x="3">Hittade</tspan><tspan x="3" dy="6.6">kontakt</tspan><tspan x="3" dy="6.6">uppgifter</tspan><tspan x="3" dy="6.6">på footer</tspan></text></g>
<g id="r7x" transform="translate(1410,673)"><rect class="s c7" width="33" height="32"/><text class="b" x="3" y="10"><tspan x="3">Osäker var</tspan><tspan x="3" dy="6.8">man</tspan><tspan x="3" dy="6.8">befinner sig</tspan></text></g>
<g id="r7y" transform="translate(1456,673)"><rect class="s c7" width="33" height="32"/></g>
<g id="r7z" transform="translate(1410,718)"><rect class="s c7" width="33" height="33"/><text class="a" x="3" y="12"><tspan x="3">Det är rörigt</tspan><tspan x="3" dy="5.8">med mycket</tspan><tspan x="3" dy="5.8">information.</tspan></text></g>
<g id="r7z1" transform="translate(1616,675)"><rect class="s c7" width="33" height="33"/></g>
<g id="r7z2" transform="translate(1616,715)"><rect class="s c7" width="33" height="33"/><text class="b" x="3" y="9"><tspan x="3">Start och</tspan><tspan x="3" dy="6.6">privat</tspan><tspan x="3" dy="6.6">samma</tspan><tspan x="3" dy="6.6">sak?</tspan></text></g>
<!-- row 8 -->
<g id="r8a" transform="translate(68,771)"><rect class="s c8" width="32" height="33"/><text class="a" x="3" y="7"><tspan x="3">Start sida:</tspan><tspan x="3" dy="5.2">ingångssidan</tspan><tspan x="3" dy="5.2">grund</tspan><tspan x="3" dy="5.2">information</tspan><tspan x="3" dy="5.2">allmän info</tspan></text></g>
<g id="r8b" transform="translate(111,773)"><rect class="s c8" width="32" height="33"/><text class="a" x="3" y="7"><tspan x="3">Så fungerar</tspan><tspan x="3" dy="5.2">det sida:</tspan><tspan x="3" dy="5.2">hur gör man</tspan><tspan x="3" dy="5.2">funkar , vad</tspan><tspan x="3" dy="5.2">kommer göra</tspan></text></g>
<g id="r8c" transform="translate(153,773)"><rect class="s c8" width="33" height="33"/></g>
<g id="r8d" transform="translate(193,773)"><rect class="s c8" width="32" height="33"/></g>
<g id="r8e" transform="translate(68,813)"><rect class="s c8" width="32" height="33"/></g>
<g id="r8f" transform="translate(110,813)"><rect class="s c8" width="33" height="33"/></g>
<g id="r8g" transform="translate(153,813)"><rect class="s c8" width="33" height="33"/><text class="a" x="3" y="7"><tspan x="3">Omsorg sida:</tspan><tspan x="3" dy="5.2">det är okej,</tspan><tspan x="3" dy="5.2">sidan förstår</tspan><tspan x="3" dy="5.2">inte riktigt vad</tspan><tspan x="3" dy="5.2">dom menar</tspan></text></g>
<g id="r8h" transform="translate(364,773)"><rect class="s c8" width="32" height="33"/></g>
<g id="r8i" transform="translate(472,769)"><rect class="s c8" width="33" height="33"/><text class="c" x="3" y="10"><tspan x="3">Har</tspan><tspan x="3" dy="8">redan ett</tspan><tspan x="3" dy="8">konto</tspan></text></g>
<g id="r8j" transform="translate(523,770)"><rect class="s c8" width="33" height="33"/></g>
<g id="r8k" transform="translate(621,772)"><rect class="s c8" width="33" height="33"/><text class="f" x="3" y="21">Pris?</text></g>
<g id="r8l" transform="translate(621,815)"><rect class="s c8" width="33" height="33"/><text class="a" x="3" y="9"><tspan x="3">Läser fel vad</tspan><tspan x="3" dy="5.6">som ingår på</tspan><tspan x="3" dy="5.6">kom igång</tspan><tspan x="3" dy="5.6">paketen</tspan></text></g>
<g id="r8m" transform="translate(750,776)"><rect class="s c8" width="33" height="33"/></g>
<g id="r8n" transform="translate(750,815)"><rect class="s c8" width="33" height="33"/><text class="a" x="3" y="7"><tspan x="3">Klarade</tspan><tspan x="3" dy="5.2">uppgiften men</tspan><tspan x="3" dy="5.2">hade svårt att</tspan><tspan x="3" dy="5.2">hitta gick fel</tspan><tspan x="3" dy="5.2">flera gånger</tspan></text></g>
<g id="r8o" transform="translate(878,776)"><rect class="s c8" width="32" height="33"/><text class="b" x="3" y="9"><tspan x="3">Hittade inte</tspan><tspan x="3" dy="6.6">till chatt</tspan><tspan x="3" dy="6.6">bubblor</tspan></text></g>
<g id="r8p" transform="translate(941,776)"><rect class="s c8" width="33" height="33"/><text class="a" x="3" y="7"><tspan x="3">Om oss sida:</tspan><tspan x="3" dy="5.2">Hittade</tspan><tspan x="3" dy="5.2">kontakt</tspan><tspan x="3" dy="5.2">uppgifter på</tspan><tspan x="3" dy="5.2">footer</tspan></text></g>
<g id="r8q" transform="translate(1177,776)"><rect class="s c8" width="33" height="33"/></g>
<g id="r8r" transform="translate(1327,771)"><rect class="s c8" width="32" height="33"/><text class="a" x="3" y="8"><tspan x="3">Kommer</tspan><tspan x="3" dy="5.8">inte ihåg hur</tspan><tspan x="3" dy="5.8">det funkar</tspan><tspan x="3" dy="5.8">med konto</tspan></text></g>
<g id="r8s" transform="translate(1327,815)"><rect class="s c8" width="32" height="33"/><text class="a" x="3" y="7"><tspan x="3">Jag kommer i</tspan><tspan x="3" dy="5.2">inte ihåg hur</tspan><tspan x="3" dy="5.2">ett konto</tspan><tspan x="3" dy="5.2">fungerar på</tspan><tspan x="3" dy="5.2">Loopell.</tspan></text></g>
<g id="r8t" transform="translate(1410,772)"><rect class="s c8" width="33" height="33"/></g>
<!-- row 9 -->
<g id="r9a" transform="translate(65,859)"><rect class="s c9" width="32" height="33"/><text class="b" x="3" y="8"><tspan x="3">Start sida:</tspan><tspan x="3" dy="6.6">ska ta reda</tspan><tspan x="3" dy="6.6">vad det är</tspan><tspan x="3" dy="6.6">loopell</tspan></text></g>
<g id="r9b" transform="translate(110,859)"><rect class="s c9" width="33" height="33"/><text class="b" x="3" y="11"><tspan x="3">Så fungerar</tspan><tspan x="3" dy="7">det sida:</tspan><tspan x="3" dy="7">funktioner</tspan></text></g>
<g id="r9c" transform="translate(151,859)"><rect class="s c9" width="34" height="35"/><text class="a" x="3" y="8"><tspan x="3">Kom igång :</tspan><tspan x="3" dy="5.4">hur man</tspan><tspan x="3" dy="5.4">kommer igång</tspan><tspan x="3" dy="5.4">med använda</tspan><tspan x="3" dy="5.4">loopell</tspan></text></g>
<g id="r9d" transform="translate(63,902)"><rect class="s c9" width="35" height="35"/><text class="a" x="3" y="8"><tspan x="3">Varför? sida:</tspan><tspan x="3" dy="5.4">ska man</tspan><tspan x="3" dy="5.4">använda loss</tspan><tspan x="3" dy="5.4">och loss</tspan><tspan x="3" dy="5.4">verkligt pris.</tspan></text></g>
<g id="r9e" transform="translate(108,902)"><rect class="s c9" width="35" height="35"/><text class="a" x="3" y="13"><tspan x="3">Om oss sida:</tspan><tspan x="3" dy="5.8">om företaget</tspan><tspan x="3" dy="5.8">och utvecklas</tspan></text></g>
<g id="r9f" transform="translate(151,902)"><rect class="s c9" width="34" height="35"/><text class="a" x="3" y="10"><tspan x="3">Omsorg sida:</tspan><tspan x="3" dy="5.8">om vill för</tspan><tspan x="3" dy="5.8">äver till</tspan><tspan x="3" dy="5.8">äldre vård</tspan></text></g>
<g id="r9g" transform="translate(190,902)"><rect class="s c9" width="35" height="35"/><text class="a" x="3" y="8"><tspan x="3">Inspiration sida:</tspan><tspan x="3" dy="5.4">jag ska bli</tspan><tspan x="3" dy="5.4">inspirerad för</tspan><tspan x="3" dy="5.4">att använda</tspan><tspan x="3" dy="5.4">loopell</tspan></text></g>
<g id="r9h" transform="translate(364,861)"><rect class="s c9" width="32" height="33"/></g>
<g id="r9i" transform="translate(472,861)"><rect class="s c9" width="33" height="33"/></g>
<g id="r9j" transform="translate(526,861)"><rect class="s c9" width="32" height="33"/></g>
<g id="r9k" transform="translate(565,861)"><rect class="s c9" width="32" height="33"/></g>
<g id="r9l" transform="translate(619,861)"><rect class="s c9" width="33" height="33"/></g>
<g id="r9m" transform="translate(660,861)"><rect class="s c9" width="32" height="33"/></g>
<g id="r9n" transform="translate(620,901)"><rect class="s c9" width="32" height="32"/></g>
<g id="r9o" transform="translate(750,863)"><rect class="s c9" width="33" height="33"/></g>
<g id="r9p" transform="translate(750,903)"><rect class="s c9" width="33" height="33"/><text class="b" x="3" y="14"><tspan x="3">Klarade</tspan><tspan x="3" dy="7">uppgiften</tspan></text></g>
<g id="r9q" transform="translate(872,863)"><rect class="s c9" width="33" height="33"/><text class="c" x="2.5" y="10"><tspan x="2.5">Hittade</tspan><tspan x="2.5" dy="8.6">till chatt</tspan><tspan x="2.5" dy="8.6">bubblor</tspan></text></g>
<g id="r9r" transform="translate(941,863)"><rect class="s c9" width="33" height="33"/><text class="b" x="3" y="8"><tspan x="3">Hittade</tspan><tspan x="3" dy="6.6">kontakt</tspan><tspan x="3" dy="6.6">uppgifter</tspan><tspan x="3" dy="6.6">på footer</tspan></text></g>
<g id="r9s" transform="translate(941,906)"><rect class="s c9" width="33" height="33"/><text class="a" x="3" y="7"><tspan x="3">Om oss sida:</tspan><tspan x="3" dy="5.2">Hittade</tspan><tspan x="3" dy="5.2">kontakt</tspan><tspan x="3" dy="5.2">uppgifter på</tspan><tspan x="3" dy="5.2">footer</tspan></text></g>
<g id="r9t" transform="translate(1037,856)"><rect class="s c9" width="32" height="33"/><text class="b" x="3" y="9"><tspan x="3">Hittade</tspan><tspan x="3" dy="6.6">supporten</tspan><tspan x="3" dy="6.6">på footer</tspan></text></g>
<g id="r9u" transform="translate(1246,857)"><rect class="s c9" width="33" height="33"/></g>
<g id="r9v" transform="translate(1410,861)"><rect class="s c9" width="35" height="35"/><text class="a" x="3" y="7"><tspan x="3">Svårt att</tspan><tspan x="3" dy="5.4">komma igång</tspan><tspan x="3" dy="5.4">med appen</tspan><tspan x="3" dy="5.4">och bjuda in</tspan><tspan x="3" dy="5.4">personen.</tspan></text></g>
<g id="r9w" transform="translate(1410,907)"><rect class="s c9" width="35" height="35"/><text class="a" x="3" y="7"><tspan x="3">Svårt att hitta</tspan><tspan x="3" dy="5.4">instruktioner</tspan><tspan x="3" dy="5.4">för att börja</tspan><tspan x="3" dy="5.4">använda</tspan><tspan x="3" dy="5.4">appen.</tspan></text></g>
<g id="r9x" transform="translate(1616,861)"><rect class="s c9" width="33" height="33"/><text class="a" x="3" y="11"><tspan x="3">nice att söka</tspan><tspan x="3" dy="5.6">på</tspan><tspan x="3" dy="5.6">webbplatsen</tspan></text></g>
<!-- row 10 -->
<g id="r10a" transform="translate(62,956)"><rect class="s c10" width="33" height="33"/></g>
<g id="r10b" transform="translate(104,956)"><rect class="s c10" width="32" height="33"/><text class="a" x="3" y="7"><tspan x="3">Så fungerar</tspan><tspan x="3" dy="5.2">det sida:</tspan><tspan x="3" dy="5.2">Hur fungera</tspan><tspan x="3" dy="5.2">konceptet</tspan><tspan x="3" dy="5.2">Loopell hur</tspan></text></g>
<g id="r10c" transform="translate(144,956)"><rect class="s c10" width="34" height="33"/><text class="a" x="3" y="8"><tspan x="3">Varför Loopell</tspan><tspan x="3" dy="5.6">sida:</tspan><tspan x="3" dy="5.6">Motivation vad</tspan><tspan x="3" dy="5.6">är företaget</tspan></text></g>
<g id="r10d" transform="translate(249,956)"><rect class="s c10" width="33" height="33"/></g>
<g id="r10e" transform="translate(64,995)"><rect class="s c10" width="32" height="33"/></g>
<g id="r10f" transform="translate(103,995)"><rect class="s c10" width="33" height="33"/></g>
<g id="r10g" transform="translate(147,995)"><rect class="s c10" width="32" height="33"/><text class="a" x="3" y="7"><tspan x="3">Inspiration</tspan><tspan x="3" dy="5.2">sida:</tspan><tspan x="3" dy="5.2">Hur man</tspan><tspan x="3" dy="5.2">skall använda</tspan><tspan x="3" dy="5.2">loopell</tspan></text></g>
<g id="r10h" transform="translate(190,995)"><rect class="s c10" width="33" height="33"/><text class="b" x="3" y="8"><tspan x="3">Om oss sida:</tspan><tspan x="3" dy="6.4">vad är det</tspan><tspan x="3" dy="6.4">för företag/</tspan><tspan x="3" dy="6.4">verksamhet</tspan></text></g>
<g id="r10i" transform="translate(363,956)"><rect class="s c10" width="31" height="33"/></g>
<g id="r10j" transform="translate(472,957)"><rect class="s c10" width="34" height="33"/></g>
<g id="r10k" transform="translate(526,957)"><rect class="s c10" width="32" height="33"/></g>
<g id="r10l" transform="translate(565,957)"><rect class="s c10" width="32" height="33"/></g>
<g id="r10m" transform="translate(620,957)"><rect class="s c10" width="33" height="33"/></g>
<g id="r10n" transform="translate(657,957)"><rect class="s c10" width="33" height="33"/></g>
<g id="r10o" transform="translate(620,997)"><rect class="s c10" width="33" height="33"/></g>
<g id="r10p" transform="translate(657,997)"><rect class="s c10" width="33" height="33"/></g>
<g id="r10q" transform="translate(750,953)"><rect class="s c10" width="33" height="34"/><text class="a" x="3" y="7"><tspan x="3">Så fungerar</tspan><tspan x="3" dy="5.2">det sidan:</tspan><tspan x="3" dy="5.2">hittar</tspan><tspan x="3" dy="5.2">funktionerna</tspan><tspan x="3" dy="5.2">enkelt</tspan></text></g>
<g id="r10r" transform="translate(751,997)"><rect class="s c10" width="32" height="33"/></g>
<g id="r10s" transform="translate(873,953)"><rect class="s c10" width="33" height="33"/><text class="b" x="3" y="10"><tspan x="3">Hittade</tspan><tspan x="3" dy="7">chatt boxen</tspan><tspan x="3" dy="7">snabbt.</tspan></text></g>
<g id="r10t" transform="translate(941,953)"><rect class="s c10" width="33" height="33"/><text class="b" x="3" y="8"><tspan x="3">Hittade</tspan><tspan x="3" dy="6.6">kontakt</tspan><tspan x="3" dy="6.6">uppgifter</tspan><tspan x="3" dy="6.6">på footer.</tspan></text></g>
<g id="r10u" transform="translate(1037,953)"><rect class="s c10" width="32" height="33"/><text class="b" x="3" y="10"><tspan x="3">Hittade</tspan><tspan x="3" dy="6.6">supporten</tspan><tspan x="3" dy="6.6">på footer</tspan></text></g>
<g id="r10v" transform="translate(1180,951)"><rect class="s c10" width="33" height="33"/></g>
<g id="r10w" transform="translate(1246,953)"><rect class="s c10" width="33" height="33"/><text class="a" x="3" y="9"><tspan x="3">Bjuder in</tspan><tspan x="3" dy="5.8">familje</tspan><tspan x="3" dy="5.8">medlemmar i</tspan><tspan x="3" dy="5.8">familjekonto</tspan></text></g>
<g id="r10x" transform="translate(1318,953)"><rect class="s c10" width="33" height="33"/><text class="a" x="3" y="7"><tspan x="3">Familje</tspan><tspan x="3" dy="5.2">medlemmar</tspan><tspan x="3" dy="5.2">behöver inte</tspan><tspan x="3" dy="5.2">skapa ett</tspan><tspan x="3" dy="5.2">konto.</tspan></text></g>
<g id="r10y" transform="translate(1410,957)"><rect class="s c10" width="35" height="35"/><text class="b" x="3" y="9"><tspan x="3">Måste vara</tspan><tspan x="3" dy="7">en tydlighet</tspan><tspan x="3" dy="7">med</tspan><tspan x="3" dy="7">priserna</tspan></text></g>
<g id="r10z" transform="translate(1410,1004)"><rect class="s c10" width="35" height="35"/><text class="b" x="3" y="9"><tspan x="3">Svårt att</tspan><tspan x="3" dy="7">navigera,</tspan><tspan x="3" dy="7">beroende</tspan><tspan x="3" dy="7">på behov.</tspan></text></g>
<g id="r10z1" transform="translate(1622,953)"><rect class="s c10" width="34" height="35"/></g>
<g id="r10z2" transform="translate(1662,954)"><rect class="s c10" width="35" height="35"/><text class="a" x="3" y="8"><tspan x="3">Det går att det</tspan><tspan x="3" dy="5.4">kan skapa</tspan><tspan x="3" dy="5.4">konto. Då vill jag</tspan><tspan x="3" dy="5.4">veta om det</tspan><tspan x="3" dy="5.4">kostar något.</tspan></text></g>
<!-- row 11 -->
<g id="r11a" transform="translate(66,1063)"><rect class="s c11" width="32" height="33"/><text class="a" x="3" y="7"><tspan x="3">Start sida:</tspan><tspan x="3" dy="5.2">Företagssidan</tspan><tspan x="3" dy="5.2">vill veta vad</tspan><tspan x="3" dy="5.2">dom gör för</tspan><tspan x="3" dy="5.2">väl.</tspan></text></g>
<g id="r11b" transform="translate(108,1060)"><rect class="s c11" width="32" height="33"/></g>
<g id="r11c" transform="translate(149,1060)"><rect class="s c11" width="32" height="33"/><text class="a" x="3" y="7"><tspan x="3">Kom igång</tspan><tspan x="3" dy="5.2">sida:</tspan><tspan x="3" dy="5.2">Hur jag</tspan><tspan x="3" dy="5.2">använder</tspan><tspan x="3" dy="5.2">produkten</tspan></text></g>
<g id="r11d" transform="translate(189,1060)"><rect class="s c11" width="32" height="33"/><text class="a" x="3" y="8"><tspan x="3">Varför</tspan><tspan x="3" dy="5.6">Loopell? sida:</tspan><tspan x="3" dy="5.6">Säljare</tspan><tspan x="3" dy="5.6">argument</tspan></text></g>
<g id="r11e" transform="translate(68,1105)"><rect class="s c11" width="33" height="33"/><text class="b" x="3" y="9"><tspan x="3">Om oss</tspan><tspan x="3" dy="6.6">sida:</tspan><tspan x="3" dy="6.6">vad är det</tspan><tspan x="3" dy="6.6">för företag</tspan></text></g>
<g id="r11f" transform="translate(109,1105)"><rect class="s c11" width="33" height="33"/><text class="a" x="3" y="8"><tspan x="3">Inspiration</tspan><tspan x="3" dy="5.6">sida:</tspan><tspan x="3" dy="5.6">Kan vara vad</tspan><tspan x="3" dy="5.6">som helst</tspan></text></g>
<g id="r11g" transform="translate(150,1105)"><rect class="s c11" width="33" height="33"/><text class="b" x="3" y="9"><tspan x="3">Omsorg</tspan><tspan x="3" dy="6.6">sida:</tspan><tspan x="3" dy="6.6">konstigt ord,</tspan><tspan x="3" dy="6.6">sjukvård</tspan></text></g>
<g id="r11h" transform="translate(377,1066)"><rect class="s c11" width="33" height="33"/><text class="b" x="3" y="9"><tspan x="3">Så fungera</tspan><tspan x="3" dy="6.4">det sidan:</tspan><tspan x="3" dy="6.4">Måste skapa</tspan><tspan x="3" dy="6.4">ett konto.</tspan></text></g>
<g id="r11i" transform="translate(474,1063)"><rect class="s c11" width="33" height="33"/></g>
<g id="r11j" transform="translate(521,1063)"><rect class="s c11" width="34" height="34"/><text class="a" x="3" y="9"><tspan x="3">Hur ska jag få</tspan><tspan x="3" dy="5.6">tag på tjänsten?</tspan><tspan x="3" dy="5.6">Vilken fördelar</tspan><tspan x="3" dy="5.6">ska man ha?</tspan></text></g>
<g id="r11k" transform="translate(562,1063)"><rect class="s c11" width="33" height="33"/></g>
<g id="r11l" transform="translate(522,1108)"><rect class="s c11" width="33" height="33"/><text class="a" x="3" y="7"><tspan x="3">Klarade</tspan><tspan x="3" dy="5.2">uppgiften men</tspan><tspan x="3" dy="5.2">hade svårt att</tspan><tspan x="3" dy="5.2">hitta gick fel</tspan><tspan x="3" dy="5.2">flera gånger</tspan></text></g>
<g id="r11m" transform="translate(562,1106)"><rect class="s c11" width="33" height="33"/></g>
<g id="r11n" transform="translate(620,1063)"><rect class="s c11" width="33" height="33"/></g>
<g id="r11o" transform="translate(655,1063)"><rect class="s c11" width="33" height="33"/></g>
<g id="r11p" transform="translate(620,1109)"><rect class="s c11" width="35" height="35"/></g>
<g id="r11q" transform="translate(750,1063)"><rect class="s c11" width="33" height="33"/><text class="a" x="3" y="7"><tspan x="3">Så fungerar</tspan><tspan x="3" dy="5.2">det sidan:</tspan><tspan x="3" dy="5.2">hittar</tspan><tspan x="3" dy="5.2">funktionerna</tspan><tspan x="3" dy="5.2">enkelt</tspan></text></g>
<g id="r11r" transform="translate(941,1061)"><rect class="s c11" width="32" height="33"/><text class="a" x="3" y="7"><tspan x="3">Ser inte</tspan><tspan x="3" dy="5.2">supportlinken</tspan><tspan x="3" dy="5.2">på footer.</tspan><tspan x="3" dy="5.2">Behöver hjälp</tspan><tspan x="3" dy="5.2">att hitta.</tspan></text></g>
<g id="r11s" transform="translate(983,1061)"><rect class="s c11" width="32" height="33"/></g>
<g id="r11t" transform="translate(941,1103)"><rect class="s c11" width="32" height="33"/></g>
<g id="r11u" transform="translate(1037,1061)"><rect class="s c11" width="32" height="33"/><text class="b" x="3" y="10"><tspan x="3">Hittade</tspan><tspan x="3" dy="6.6">supporten</tspan><tspan x="3" dy="6.6">på footer</tspan></text></g>
<g id="r11v" transform="translate(1177,1060)"><rect class="s c11" width="32" height="33"/><text class="b" x="3" y="8"><tspan x="3">En köpare</tspan><tspan x="3" dy="6.6">som</tspan><tspan x="3" dy="6.6">öppnar</tspan><tspan x="3" dy="6.6">konto</tspan></text></g>
<g id="r11w" transform="translate(1249,1060)"><rect class="s c11" width="33" height="33"/><text class="c" x="3" y="10"><tspan x="3">nej</tspan><tspan x="3" dy="8.4">kommer</tspan><tspan x="3" dy="8.4">inte i håg</tspan></text></g>
<g id="r11x" transform="translate(1322,1059)"><rect class="s c11" width="32" height="33"/><text class="a" x="3" y="7"><tspan x="3">nej jag vet inte</tspan><tspan x="3" dy="5.2">hur funkar</tspan><tspan x="3" dy="5.2">fördelen bara</tspan><tspan x="3" dy="5.2">ett konto per</tspan><tspan x="3" dy="5.2">familj</tspan></text></g>
<g id="r11y" transform="translate(1322,1099)"><rect class="s c11" width="33" height="33"/><text class="b" x="3" y="8"><tspan x="3">En köpare</tspan><tspan x="3" dy="6.6">som</tspan><tspan x="3" dy="6.6">öppnar</tspan><tspan x="3" dy="6.6">konto</tspan></text></g>
<g id="r11z" transform="translate(1407,1064)"><rect class="s c11" width="35" height="35"/></g>
<g id="r11z1" transform="translate(1535,1059)"><rect class="s c11" width="35" height="35"/><text class="b" x="3" y="11"><tspan x="3">nice ha en</tspan><tspan x="3" dy="8">sök ruta</tspan><tspan x="3" dy="8">kommer</tspan></text></g>
<!-- row 12 -->
<g id="r12a" transform="translate(372,1154)"><rect class="s c12" width="32" height="33"/><text class="a" x="3" y="8"><tspan x="3">Borde skapa</tspan><tspan x="3" dy="6">konto innan</tspan><tspan x="3" dy="6">man börjar</tspan><tspan x="3" dy="6">göra något.</tspan></text></g>
<g id="r12b" transform="translate(527,1153)"><rect class="s c12" width="33" height="33"/></g>
<g id="r12c" transform="translate(568,1153)"><rect class="s c12" width="32" height="33"/></g>
<g id="r12d" transform="translate(529,1193)"><rect class="s c12" width="33" height="34"/></g>
<g id="r12e" transform="translate(568,1192)"><rect class="s c12" width="32" height="33"/><text class="a" x="3" y="7"><tspan x="3">Efter har</tspan><tspan x="3" dy="5.2">skapat konto.</tspan><tspan x="3" dy="5.2">Vet inte riktigt</tspan><tspan x="3" dy="5.2">vad jag ska</tspan><tspan x="3" dy="5.2">göra här näst.</tspan></text></g>
<g id="r12f" transform="translate(619,1153)"><rect class="s c12" width="33" height="33"/></g>
<g id="r12g" transform="translate(659,1153)"><rect class="s c12" width="33" height="33"/></g>
<g id="r12h" transform="translate(619,1192)"><rect class="s c12" width="32" height="33"/></g>
<g id="r12i" transform="translate(750,1155)"><rect class="s c12" width="33" height="33"/><text class="a" x="3" y="7"><tspan x="3">Så fungerar</tspan><tspan x="3" dy="5.2">det sidan:</tspan><tspan x="3" dy="5.2">hittar</tspan><tspan x="3" dy="5.2">funktionerna</tspan><tspan x="3" dy="5.2">enkelt</tspan></text></g>
<g id="r12j" transform="translate(941,1155)"><rect class="s c12" width="32" height="33"/><text class="a" x="3" y="11"><tspan x="3">Hittar</tspan><tspan x="3" dy="5.4">kontaktuppgifter</tspan><tspan x="3" dy="5.4">på footer. Finner</tspan><tspan x="3" dy="5.4">det snabbt</tspan></text></g>
<g id="r12k" transform="translate(1037,1155)"><rect class="s c12" width="32" height="33"/></g>
<g id="r12l" transform="translate(1251,1153)"><rect class="s c12" width="33" height="33"/><text class="c" x="3" y="10"><tspan x="3">nej</tspan><tspan x="3" dy="8.4">kommer</tspan><tspan x="3" dy="8.4">inte i håg</tspan></text></g>
<g id="r12m" transform="translate(1318,1153)"><rect class="s c12" width="33" height="33"/></g>
<g id="r12n" transform="translate(1410,1152)"><rect class="s c12" width="35" height="35"/><text class="a" x="3" y="7"><tspan x="3">Start sida:</tspan></text></g>
<g id="r12o" transform="translate(1410,1194)"><rect class="s c12" width="35" height="35"/><text class="b" x="3" y="9"><tspan x="3">Mycket text</tspan><tspan x="3" dy="7">ta sig</tspan><tspan x="3" dy="7">igenom i</tspan><tspan x="3" dy="7">vissa lägen</tspan></text></g>
<g id="r12p" transform="translate(1621,1155)"><rect class="s c12" width="35" height="35"/></g>
<text x="1725" y="1190" font-size="25" fill="#c9c9d1" style="fill:#c9c9d1;font-family:'Open Sans','Noto Sans',sans-serif">miro</text>
</svg>
